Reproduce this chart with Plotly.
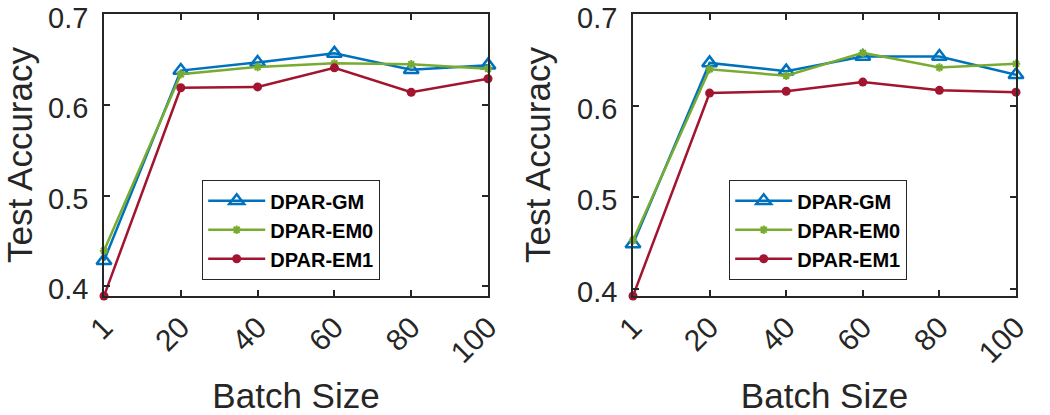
import plotly.graph_objects as go

batch_sizes = ["1", "20", "40", "60", "80", "100"]
y_ticks = [0.4, 0.5, 0.6, 0.7]

left_gm = [0.428, 0.638, 0.647, 0.657, 0.639, 0.644]
left_em0 = [0.439, 0.634, 0.642, 0.646, 0.645, 0.640]
left_em1 = [0.389, 0.619, 0.620, 0.641, 0.614, 0.629]

right_gm = [0.449, 0.647, 0.638, 0.654, 0.654, 0.634]
right_em0 = [0.453, 0.640, 0.633, 0.658, 0.642, 0.646]
right_em1 = [0.392, 0.614, 0.616, 0.626, 0.617, 0.615]

BLUE = "#0072BD"
GREEN = "#77AC30"
RED = "#A2142F"
AX = "#262626"
FONT = "Liberation Sans, Arial, Helvetica, sans-serif"

W, H = 1050, 415

def px(x):
    return x / W

def py(y):
    return 1 - y / H

fig = go.Figure()

def add_series(xref, yref, legend, gm, em0, em1):
    fig.add_trace(go.Scatter(x=batch_sizes, y=gm, name="DPAR-GM", mode="lines+markers",
                             line=dict(color=BLUE, width=2.5),
                             marker=dict(symbol="triangle-up-open", size=13, color=BLUE,
                                         line=dict(width=2.5, color=BLUE)),
                             xaxis=xref, yaxis=yref, legend=legend, cliponaxis=False))
    fig.add_trace(go.Scatter(x=batch_sizes, y=em0, name="DPAR-EM0", mode="lines+markers",
                             line=dict(color=GREEN, width=2.5),
                             marker=dict(symbol="asterisk-open", size=7, color=GREEN,
                                         line=dict(width=2, color=GREEN)),
                             xaxis=xref, yaxis=yref, legend=legend, cliponaxis=False))
    fig.add_trace(go.Scatter(x=batch_sizes, y=em1, name="DPAR-EM1", mode="lines+markers",
                             line=dict(color=RED, width=2.5),
                             marker=dict(symbol="circle", size=9, color=RED),
                             xaxis=xref, yaxis=yref, legend=legend, cliponaxis=False))

add_series("x", "y", "legend", left_gm, left_em0, left_em1)
add_series("x2", "y2", "legend2", right_gm, right_em0, right_em1)

xcommon = dict(type="category", categoryorder="array", categoryarray=batch_sizes,
               range=[0, 5], showline=True, linecolor=AX, linewidth=1.5, mirror="ticks",
               ticks="inside", ticklen=6, tickcolor=AX, tickwidth=1.5, tickangle=-45,
               tickfont=dict(family=FONT, size=30, color=AX), showgrid=False, zeroline=False,
               automargin=False, ticklabeloverflow="allow",
               title=dict(text="Batch Size", font=dict(family=FONT, size=35, color=AX), standoff=19))
ycommon = dict(tickvals=y_ticks, ticktext=[f"{v:.1f}" for v in y_ticks],
               showline=True, linecolor=AX, linewidth=1.5, mirror="ticks",
               ticks="inside", ticklen=6, tickcolor=AX, tickwidth=1.5,
               tickfont=dict(family=FONT, size=29, color=AX), showgrid=False, zeroline=False,
               automargin=False, ticklabelstandoff=8, ticklabeloverflow="allow",
               ticklabelshift=3,
               title=dict(text="Test Accuracy", font=dict(family=FONT, size=35, color=AX), standoff=16))

ydom = [py(296), py(14)]
legfont = dict(family=FONT, size=20, color="black", weight="bold")
fig.update_layout(
    width=W, height=H,
    margin=dict(l=0, r=0, t=0, b=0),
    paper_bgcolor="white", plot_bgcolor="white",
    xaxis=dict(domain=[px(104), px(488)], anchor="y", **xcommon),
    yaxis=dict(domain=ydom, anchor="x", range=[0.389, 0.7005], **ycommon),
    xaxis2=dict(domain=[px(633), px(1016)], anchor="y2", **xcommon),
    yaxis2=dict(domain=ydom, anchor="x2", range=[0.392, 0.7005], **ycommon),
    legend=dict(x=px(202), y=py(180), xanchor="left", yanchor="top",
                bgcolor="white", bordercolor=AX, borderwidth=1.2,
                font=legfont, itemwidth=57, tracegroupgap=0),
    legend2=dict(x=px(729), y=py(180), xanchor="left", yanchor="top",
                 bgcolor="white", bordercolor=AX, borderwidth=1.2,
                 font=legfont, itemwidth=57, tracegroupgap=0),
)

fig.write_html("out.html", config={"displayModeBar": False},
               post_script="document.body.style.margin='0';document.body.style.padding='0';")
